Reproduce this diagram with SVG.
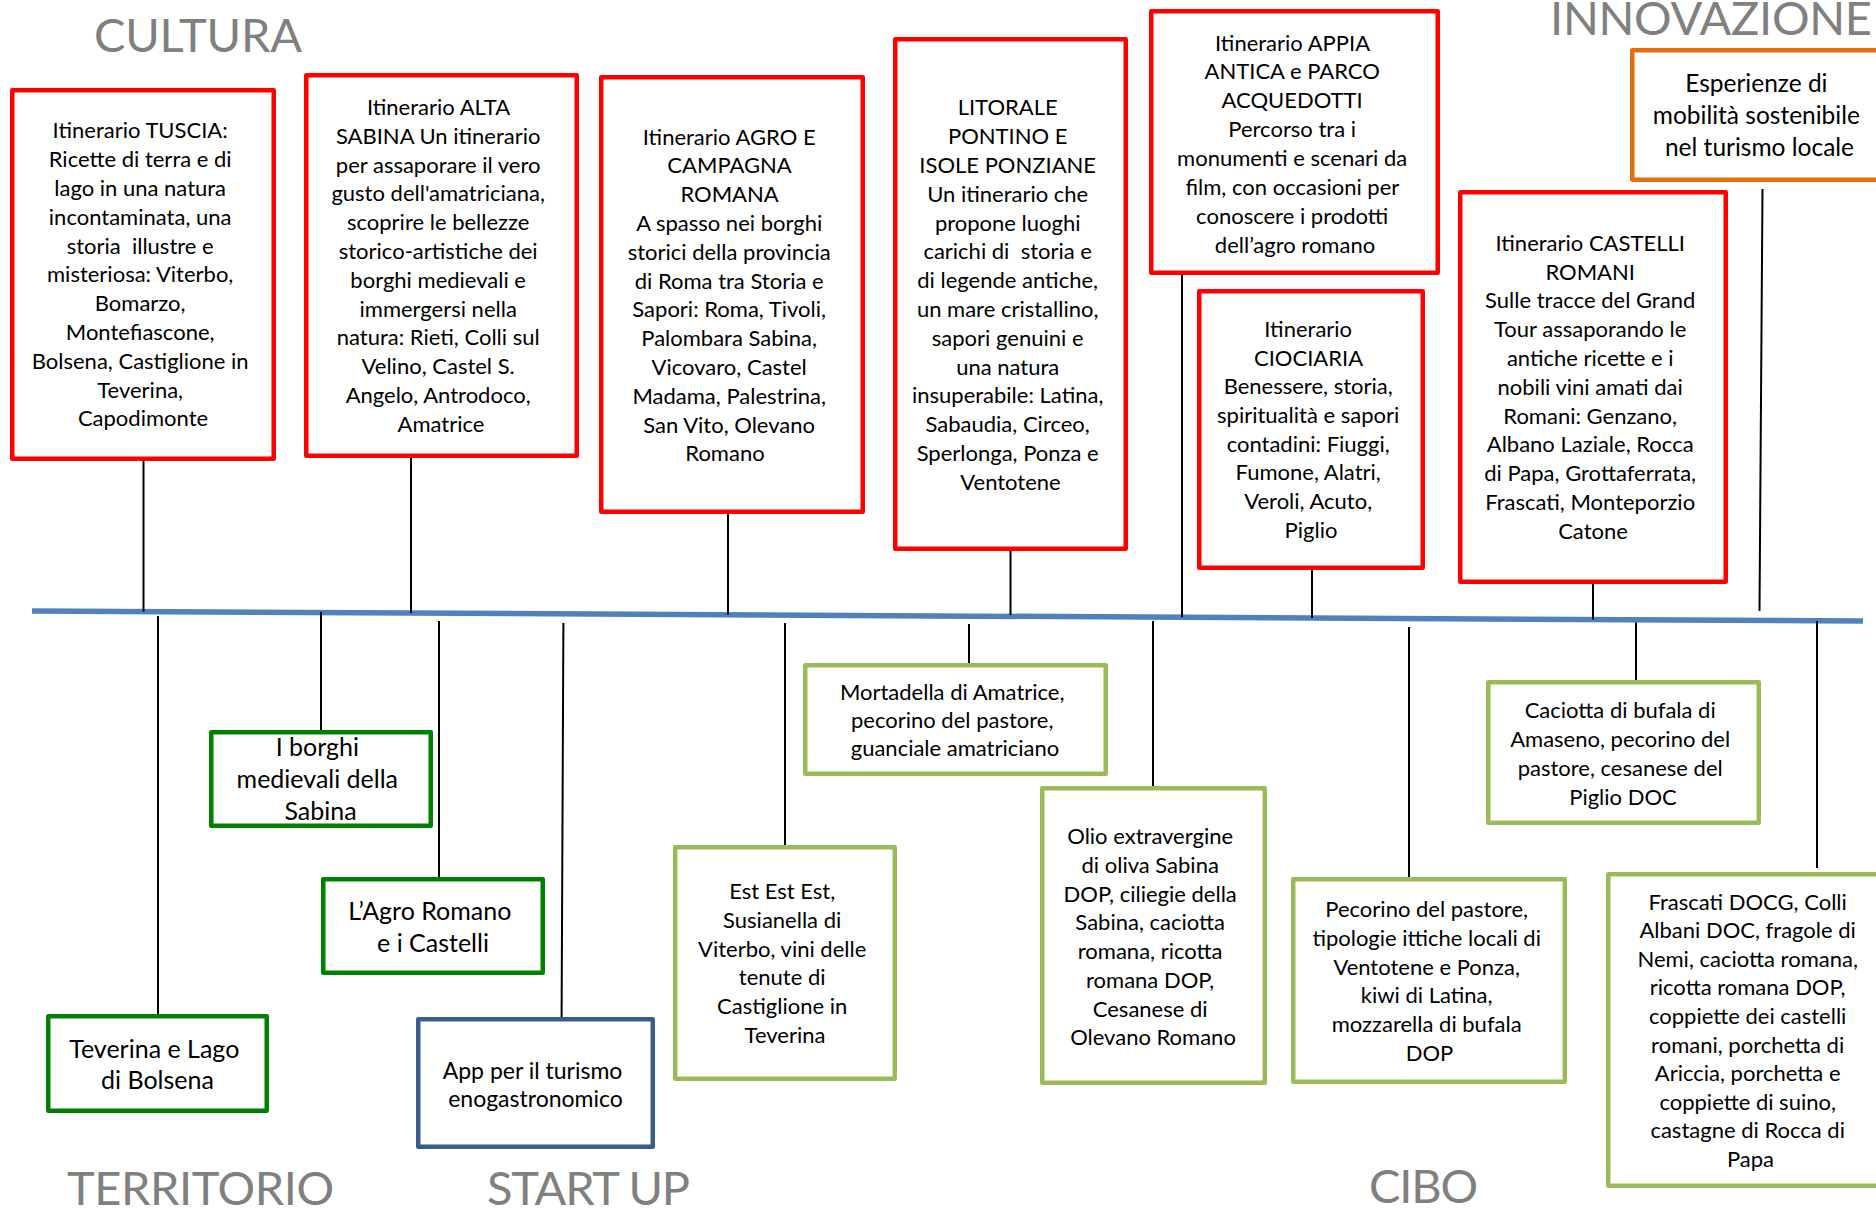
<svg xmlns="http://www.w3.org/2000/svg" width="1876" height="1208" viewBox="0 0 1876 1208">
  <style>
    .box { fill: #ffffff; stroke-width: 4.5; stroke-linejoin: round; }
    .red { stroke: #ff0000; }
    .orange { stroke: #e46c0a; }
    .dkgreen { stroke: #008000; }
    .ltgreen { stroke: #9bbb59; }
    .blue { stroke: #385d8a; }
    .t { font-family: Lato, "Liberation Sans", sans-serif; font-size: 22px; fill: #000000; text-anchor: middle; }
    .big { font-size: 25px; }
    .mid { font-size: 23px; }
    .title { font-family: Lato, "Liberation Sans", sans-serif; font-size: 47px; fill: #808080; }
    .conn line { stroke: #000000; stroke-width: 2; }
    .axis { stroke: #4f81bd; stroke-width: 5.5; }
  </style>

  <!-- section titles -->
  <g id="titles">
    <text class="title" x="94" y="52" textLength="208">CULTURA</text>
    <text class="title" x="1550" y="35" textLength="322">INNOVAZIONE</text>
    <text class="title" x="67" y="1205" textLength="267">TERRITORIO</text>
    <text class="title" x="487" y="1205" textLength="203">START UP</text>
    <text class="title" x="1369" y="1203" textLength="109">CIBO</text>
  </g>

  <!-- timeline axis -->
  <line id="timeline" class="axis" x1="32" y1="611" x2="1863" y2="621"/>

  <!-- connectors between nodes and the timeline -->
  <g id="connectors" class="conn">
    <line x1="143.5" y1="461" x2="143.5" y2="611.5"/>
    <line x1="411" y1="458" x2="411" y2="613"/>
    <line x1="728" y1="514" x2="728" y2="614.8"/>
    <line x1="1010.5" y1="551" x2="1010.5" y2="615"/>
    <line x1="1182" y1="275" x2="1182" y2="617.3"/>
    <line x1="1312" y1="570" x2="1312" y2="618"/>
    <line x1="1593" y1="584" x2="1593" y2="619.5"/>
    <line x1="1762.5" y1="189" x2="1759.5" y2="611"/>

    <line x1="158" y1="616" x2="158" y2="1014"/>
    <line x1="321" y1="612" x2="321" y2="730"/>
    <line x1="439" y1="621" x2="439" y2="877"/>
    <line x1="563.4" y1="623" x2="561.6" y2="1017"/>
    <line x1="785" y1="623" x2="785" y2="845"/>
    <line x1="969" y1="624" x2="969" y2="663"/>
    <line x1="1153" y1="621" x2="1153" y2="786"/>
    <line x1="1409" y1="627" x2="1409" y2="877"/>
    <line x1="1636" y1="622.5" x2="1636" y2="680"/>
    <line x1="1817" y1="621" x2="1817" y2="868"/>
  </g>

  <!-- itineraries (CULTURA) -->
  <g id="tuscia">
    <rect class="box red" x="12.25" y="90.25" width="261.5" height="368.5"/>
    <text class="t" y="138.3">
      <tspan x="143">Itinerario TUSCIA:</tspan>
      <tspan x="143" dy="28.8">Ricette di terra e di</tspan>
      <tspan x="143" dy="28.8">lago in una natura</tspan>
      <tspan x="143" dy="28.8">incontaminata, una</tspan>
      <tspan x="143" dy="28.8">storia&#160; illustre e</tspan>
      <tspan x="143" dy="28.8">misteriosa: Viterbo,</tspan>
      <tspan x="143" dy="28.8">Bomarzo,</tspan>
      <tspan x="143" dy="28.8">Montefiascone,</tspan>
      <tspan x="143" dy="28.8">Bolsena, Castiglione in</tspan>
      <tspan x="143" dy="28.8">Teverina,</tspan>
      <tspan x="143" dy="28.8">Capodimonte</tspan>
    </text>
  </g>

  <g id="alta-sabina">
    <rect class="box red" x="306.25" y="75.25" width="270.5" height="380.5"/>
    <text class="t" y="115">
      <tspan x="441">Itinerario ALTA</tspan>
      <tspan x="441" dy="28.8">SABINA Un itinerario</tspan>
      <tspan x="441" dy="28.8">per assaporare il vero</tspan>
      <tspan x="441" dy="28.8">gusto dell'amatriciana,</tspan>
      <tspan x="441" dy="28.8">scoprire le bellezze</tspan>
      <tspan x="441" dy="28.8">storico-artistiche dei</tspan>
      <tspan x="441" dy="28.8">borghi medievali e</tspan>
      <tspan x="441" dy="28.8">immergersi nella</tspan>
      <tspan x="441" dy="28.8">natura: Rieti, Colli sul</tspan>
      <tspan x="441" dy="28.8">Velino, Castel S.</tspan>
      <tspan x="441" dy="28.8">Angelo, Antrodoco,</tspan>
      <tspan x="441" dy="28.8">Amatrice</tspan>
    </text>
  </g>

  <g id="agro-campagna">
    <rect class="box red" x="601.25" y="77.25" width="261.5" height="434.5"/>
    <text class="t" y="144.6">
      <tspan x="732">Itinerario AGRO E</tspan>
      <tspan x="732" dy="28.8">CAMPAGNA</tspan>
      <tspan x="732" dy="28.8">ROMANA</tspan>
      <tspan x="732" dy="28.8">A spasso nei borghi</tspan>
      <tspan x="732" dy="28.8">storici della provincia</tspan>
      <tspan x="732" dy="28.8">di Roma tra Storia e</tspan>
      <tspan x="732" dy="28.8">Sapori: Roma, Tivoli,</tspan>
      <tspan x="732" dy="28.8">Palombara Sabina,</tspan>
      <tspan x="732" dy="28.8">Vicovaro, Castel</tspan>
      <tspan x="732" dy="28.8">Madama, Palestrina,</tspan>
      <tspan x="732" dy="28.8">San Vito, Olevano</tspan>
      <tspan x="725" dy="28.8">Romano</tspan>
    </text>
  </g>

  <g id="litorale">
    <rect class="box red" x="895.25" y="39.25" width="230.5" height="509.5"/>
    <text class="t" y="115.4">
      <tspan x="1010.5">LITORALE</tspan>
      <tspan x="1010.5" dy="28.8">PONTINO E</tspan>
      <tspan x="1010.5" dy="28.8">ISOLE PONZIANE</tspan>
      <tspan x="1010.5" dy="28.8">Un itinerario che</tspan>
      <tspan x="1010.5" dy="28.8">propone luoghi</tspan>
      <tspan x="1010.5" dy="28.8">carichi di&#160; storia e</tspan>
      <tspan x="1010.5" dy="28.8">di legende antiche,</tspan>
      <tspan x="1010.5" dy="28.8">un mare cristallino,</tspan>
      <tspan x="1010.5" dy="28.8">sapori genuini e</tspan>
      <tspan x="1010.5" dy="28.8">una natura</tspan>
      <tspan x="1010.5" dy="28.8">insuperabile: Latina,</tspan>
      <tspan x="1010.5" dy="28.8">Sabaudia, Circeo,</tspan>
      <tspan x="1010.5" dy="28.8">Sperlonga, Ponza e</tspan>
      <tspan x="1010.5" dy="28.8">Ventotene</tspan>
    </text>
  </g>

  <g id="appia-antica">
    <rect class="box red" x="1151.25" y="11.25" width="286.5" height="261.5"/>
    <text class="t" y="50.5">
      <tspan x="1295">Itinerario APPIA</tspan>
      <tspan x="1295" dy="28.9">ANTICA e PARCO</tspan>
      <tspan x="1295" dy="28.9">ACQUEDOTTI</tspan>
      <tspan x="1295" dy="28.9">Percorso tra i</tspan>
      <tspan x="1295" dy="28.9">monumenti e scenari da</tspan>
      <tspan x="1295" dy="28.9">film, con occasioni per</tspan>
      <tspan x="1295" dy="28.9">conoscere i prodotti</tspan>
      <tspan x="1295" dy="28.9">dell’agro romano</tspan>
    </text>
  </g>

  <g id="ciociaria">
    <rect class="box red" x="1199.25" y="291.25" width="223.5" height="276.5"/>
    <text class="t" y="336.8">
      <tspan x="1311">Itinerario</tspan>
      <tspan x="1311" dy="28.7">CIOCIARIA</tspan>
      <tspan x="1311" dy="28.7">Benessere, storia,</tspan>
      <tspan x="1311" dy="28.7">spiritualità e sapori</tspan>
      <tspan x="1311" dy="28.7">contadini: Fiuggi,</tspan>
      <tspan x="1311" dy="28.7">Fumone, Alatri,</tspan>
      <tspan x="1311" dy="28.7">Veroli, Acuto,</tspan>
      <tspan x="1311" dy="28.7">Piglio</tspan>
    </text>
  </g>

  <g id="castelli-romani">
    <rect class="box red" x="1460.25" y="192.25" width="265.5" height="389.5"/>
    <text class="t" y="250.7">
      <tspan x="1593">Itinerario CASTELLI</tspan>
      <tspan x="1593" dy="28.8">ROMANI</tspan>
      <tspan x="1593" dy="28.8">Sulle tracce del Grand</tspan>
      <tspan x="1593" dy="28.8">Tour assaporando le</tspan>
      <tspan x="1593" dy="28.8">antiche ricette e i</tspan>
      <tspan x="1593" dy="28.8">nobili vini amati dai</tspan>
      <tspan x="1593" dy="28.8">Romani: Genzano,</tspan>
      <tspan x="1593" dy="28.8">Albano Laziale, Rocca</tspan>
      <tspan x="1593" dy="28.8">di Papa, Grottaferrata,</tspan>
      <tspan x="1593" dy="28.8">Frascati, Monteporzio</tspan>
      <tspan x="1593" dy="28.8">Catone</tspan>
    </text>
  </g>

  <!-- INNOVAZIONE -->
  <g id="mobilita">
    <rect class="box orange" x="1632.25" y="50.25" width="266" height="129.5"/>
    <text class="t big" y="91.8" style="font-size:24.5px">
      <tspan x="1759.5">Esperienze di</tspan>
      <tspan x="1759.5" dy="32.2">mobilità sostenibile</tspan>
      <tspan x="1759.5" dy="32.2">nel turismo locale</tspan>
    </text>
  </g>

  <!-- TERRITORIO -->
  <g id="teverina">
    <rect class="box dkgreen" x="48.25" y="1016.25" width="218.5" height="94.5"/>
    <text class="t big" y="1057.8">
      <tspan x="157.5">Teverina e Lago</tspan>
      <tspan x="157.5" dy="31.6">di Bolsena</tspan>
    </text>
  </g>

  <g id="borghi-sabina">
    <rect class="box dkgreen" x="211.25" y="732.25" width="219.5" height="93.5"/>
    <text class="t big" y="756">
      <tspan x="320.5">I borghi</tspan>
      <tspan x="320.5" dy="32">medievali della</tspan>
      <tspan x="320.5" dy="32">Sabina</tspan>
    </text>
  </g>

  <g id="agro-castelli">
    <rect class="box dkgreen" x="323.25" y="879.25" width="219.5" height="93.5"/>
    <text class="t big" y="919.6">
      <tspan x="433">L’Agro Romano</tspan>
      <tspan x="433" dy="32">e i Castelli</tspan>
    </text>
  </g>

  <!-- START UP -->
  <g id="app">
    <rect class="box blue" x="418.25" y="1019.25" width="234.5" height="127.5"/>
    <text class="t mid" y="1078.5">
      <tspan x="535.5">App per il turismo</tspan>
      <tspan x="535.5" dy="28.2">enogastronomico</tspan>
    </text>
  </g>

  <!-- CIBO -->
  <g id="est-est-est">
    <rect class="box ltgreen" x="675.25" y="847.25" width="219.5" height="231.5"/>
    <text class="t" y="899.3">
      <tspan x="785">Est Est Est,</tspan>
      <tspan x="785" dy="28.7">Susianella di</tspan>
      <tspan x="785" dy="28.7">Viterbo, vini delle</tspan>
      <tspan x="785" dy="28.7">tenute di</tspan>
      <tspan x="785" dy="28.7">Castiglione in</tspan>
      <tspan x="785" dy="28.7">Teverina</tspan>
    </text>
  </g>

  <g id="mortadella">
    <rect class="box ltgreen" x="805.25" y="665.25" width="300.5" height="108.5"/>
    <text class="t" y="700">
      <tspan x="955">Mortadella di Amatrice,</tspan>
      <tspan x="955" dy="28">pecorino del pastore,</tspan>
      <tspan x="955" dy="28">guanciale amatriciano</tspan>
    </text>
  </g>

  <g id="olio-sabina">
    <rect class="box ltgreen" x="1042.25" y="788.25" width="222.5" height="294.5"/>
    <text class="t" y="844.3">
      <tspan x="1153">Olio extravergine</tspan>
      <tspan x="1153" dy="28.7">di oliva Sabina</tspan>
      <tspan x="1153" dy="28.7">DOP, ciliegie della</tspan>
      <tspan x="1153" dy="28.7">Sabina, caciotta</tspan>
      <tspan x="1153" dy="28.7">romana, ricotta</tspan>
      <tspan x="1153" dy="28.7">romana DOP,</tspan>
      <tspan x="1153" dy="28.7">Cesanese di</tspan>
      <tspan x="1153" dy="28.7">Olevano Romano</tspan>
    </text>
  </g>

  <g id="pecorino">
    <rect class="box ltgreen" x="1293.25" y="879.25" width="271.5" height="202.5"/>
    <text class="t" y="917">
      <tspan x="1429.5">Pecorino del pastore,</tspan>
      <tspan x="1429.5" dy="28.8">tipologie ittiche locali di</tspan>
      <tspan x="1429.5" dy="28.8">Ventotene e Ponza,</tspan>
      <tspan x="1429.5" dy="28.8">kiwi di Latina,</tspan>
      <tspan x="1429.5" dy="28.8">mozzarella di bufala</tspan>
      <tspan x="1429.5" dy="28.8">DOP</tspan>
    </text>
  </g>

  <g id="caciotta">
    <rect class="box ltgreen" x="1488.25" y="682.25" width="270.5" height="140.5"/>
    <text class="t" y="717.9">
      <tspan x="1623">Caciotta di bufala di</tspan>
      <tspan x="1623" dy="29">Amaseno, pecorino del</tspan>
      <tspan x="1623" dy="29">pastore, cesanese del</tspan>
      <tspan x="1623" dy="29">Piglio DOC</tspan>
    </text>
  </g>

  <g id="frascati">
    <rect class="box ltgreen" x="1608.25" y="874.25" width="286" height="311.5"/>
    <text class="t" y="909.5">
      <tspan x="1750.5">Frascati DOCG, Colli</tspan>
      <tspan x="1750.5" dy="28.6">Albani DOC, fragole di</tspan>
      <tspan x="1750.5" dy="28.6">Nemi, caciotta romana,</tspan>
      <tspan x="1750.5" dy="28.6">ricotta romana DOP,</tspan>
      <tspan x="1750.5" dy="28.6">coppiette dei castelli</tspan>
      <tspan x="1750.5" dy="28.6">romani, porchetta di</tspan>
      <tspan x="1750.5" dy="28.6">Ariccia, porchetta e</tspan>
      <tspan x="1750.5" dy="28.6">coppiette di suino,</tspan>
      <tspan x="1750.5" dy="28.6">castagne di Rocca di</tspan>
      <tspan x="1750.5" dy="28.6">Papa</tspan>
    </text>
  </g>
</svg>
